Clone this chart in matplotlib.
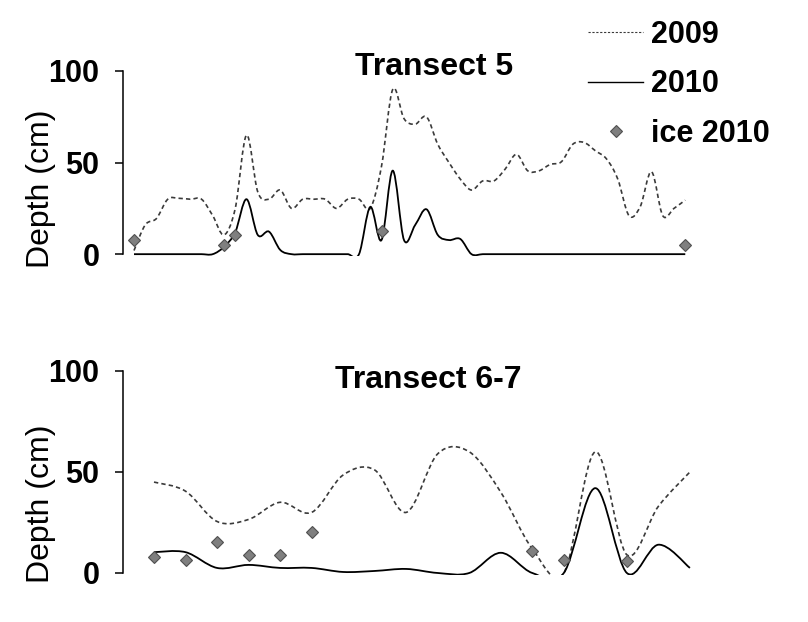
import numpy as np
import matplotlib
matplotlib.use('Agg')
import matplotlib.pyplot as plt
from matplotlib.path import Path
from matplotlib.patches import PathPatch
from matplotlib.lines import Line2D

plt.rcParams['font.family'] = ['Liberation Sans', 'DejaVu Sans']

nan = np.nan

# ---- Transect 5 (50 stations) ----
t5_2009 = [2, 16, 19.5, 30, 30.5, 30, 30, 21, 10.5, 25,
           65, 34, 30, 35, 25, 30, 30, 30, 25, 30,
           30, 25, 48, 90, 74, 71, 75, 60, 50, 41,
           35, 40, 40, 46.5, 54.5, 45.5, 45.5, 49, 50.5, 60,
           61, 56.5, 52, 41, 21, 26, 45, 21, 25, 29.5]
t5_2010 = [0, 0, 0, 0, 0, 0, 0, 0, 4, 12,
           30, 10.5, 12.3, 2.3, 0, 0, 0, 0, 0, 0,
           0, 25.8, 7.7, 45.6, 7.7, 16, 24.5, 10.5, 7.7, 8.3,
           0, 0, 0, 0, 0, 0, 0, 0, 0, 0,
           0, 0, 0, 0, 0, 0, 0, 0, 0, 0]
t5_ice = [nan] * 50
t5_ice[0] = 7.7
t5_ice[8] = 5
t5_ice[9] = 10.5
t5_ice[22] = 12.6
t5_ice[49] = 5

# ---- Transect 6-7 (18 stations) ----
t67_2009 = [45, 40.5, 25.5, 26.5, 35, 30, 48.5, 51, 30, 59,
            60, 40, 12, 0, 60, 9, 33, 50]
t67_2010 = [10.3, 10.3, 2.5, 4, 2.5, 2.5, 0.5, 1, 2, 0,
            0, 10, 0, 0, 42, 0, 14, 2.5]
t67_ice = [8, 6.5, 15.5, 9, 9, 20.5, nan, nan, nan, nan,
           nan, nan, 11, 6.5, nan, 6, nan, nan]

legend_labels = ['2009', '2010', 'ice 2010']

c2009 = '#3a3a3a'
dash = (0, (2.6, 1.9))
ice_fc = '#7f7f7f'
ice_ec = '#505050'


def smooth_path(y):
    # smoothed line like excel: catmull-rom pieces as cubic beziers
    y = np.asarray(y, float)
    pts = np.column_stack([np.arange(len(y), dtype=float), y])
    n = len(pts)
    verts = [pts[0]]
    codes = [Path.MOVETO]
    for i in range(n - 1):
        p0 = pts[max(i - 1, 0)]
        p1 = pts[i]
        p2 = pts[i + 1]
        p3 = pts[min(i + 2, n - 1)]
        verts += [p1 + (p2 - p0) / 6, p2 - (p3 - p1) / 6, p2]
        codes += [Path.CURVE4] * 3
    return Path(verts, codes)


def panel(ax, d2009, d2010, ice, xlim):
    ax.add_patch(PathPatch(smooth_path(d2009), fill=False, edgecolor=c2009,
                           lw=1.2, linestyle=dash))
    ax.add_patch(PathPatch(smooth_path(d2010), fill=False, edgecolor='black',
                           lw=1.3))
    ax.plot(np.arange(len(ice)), ice, ls='none', marker='D', ms=6,
            mfc=ice_fc, mec=ice_ec, mew=0.8, zorder=5)
    ax.set_xlim(*xlim)
    ax.set_ylim(-1, 100)
    ax.set_yticks([0, 50, 100])
    ax.set_xticks([])
    for s in ['top', 'right', 'bottom']:
        ax.spines[s].set_visible(False)
    ax.spines['left'].set_bounds(0, 100)
    ax.spines['left'].set_linewidth(1.1)
    ax.tick_params(axis='y', length=6, width=1.1, pad=11, labelsize=22)
    for t in ax.get_yticklabels():
        t.set_fontweight('bold')


fig = plt.figure(figsize=(8.08, 6.22), dpi=100)

ax1 = fig.add_axes([123 / 808, 1 - 256 / 622, 577 / 808, 185 / 622])
panel(ax1, t5_2009, t5_2010, t5_ice, (-0.978, 50.31))

ax2 = fig.add_axes([123 / 808, 1 - 575 / 622, 577 / 808, 204 / 622])
panel(ax2, t67_2009, t67_2010, t67_ice, (-0.983, 17.32))

fig.text(434 / 808, 1 - 75 / 622, 'Transect 5', fontsize=23,
         fontweight='bold', ha='center', va='baseline')
fig.text(428 / 808, 1 - 388 / 622, 'Transect 6-7', fontsize=23,
         fontweight='bold', ha='center', va='baseline')

fig.text(41 / 808, 1 - 189 / 622, 'Depth (cm)', fontsize=23,
         rotation=90, ha='center', va='center')
fig.text(41 / 808, 1 - 504 / 622, 'Depth (cm)', fontsize=23,
         rotation=90, ha='center', va='center')

handles = [Line2D([], [], color=c2009, lw=0.8, linestyle=(0, (2, 1.5))),
           Line2D([], [], color='black', lw=1.0),
           Line2D([], [], ls='none', marker='D', ms=6, mfc=ice_fc,
                  mec=ice_ec, mew=0.8)]
fig.legend(handles, legend_labels, loc='upper left',
           bbox_to_anchor=(588 / 808, 1 - 20 / 622), frameon=False,
           borderpad=0, borderaxespad=0, handlelength=1.8,
           handletextpad=0.25, labelspacing=0.63,
           prop={'size': 22, 'weight': 'bold'})

fig.savefig('out.png', dpi=100)
